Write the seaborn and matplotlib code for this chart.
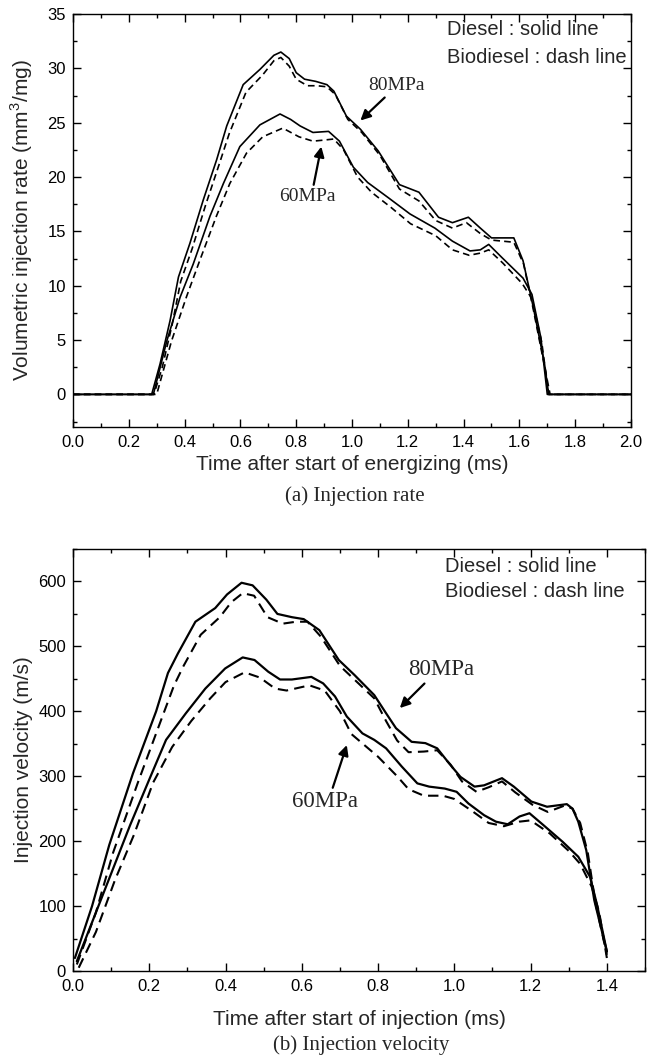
import numpy as np
import pandas as pd
import matplotlib
matplotlib.use("Agg")
import matplotlib.pyplot as plt
import seaborn as sns
from matplotlib.ticker import MultipleLocator, FormatStrFormatter

# ---------------- data: (a) injection rate ----------------
rate_80_diesel_t = [0.0, 0.282, 0.312, 0.348, 0.378, 0.419, 0.467, 0.515, 0.551, 0.61, 0.67, 0.72, 0.745, 0.775, 0.80, 0.83, 0.87, 0.91, 0.935, 0.98, 1.03, 1.094, 1.17, 1.24, 1.31, 1.36, 1.417, 1.46, 1.50, 1.58, 1.613, 1.65, 1.69, 1.705, 2.0]
rate_80_diesel = [0, 0, 2.8, 6.8, 10.8, 13.9, 17.9, 21.6, 24.7, 28.5, 29.9, 31.2, 31.5, 30.9, 29.6, 29.0, 28.8, 28.5, 27.9, 25.6, 24.4, 22.4, 19.3, 18.6, 16.3, 15.8, 16.3, 15.3, 14.4, 14.4, 12.3, 8.0, 2.8, 0, 0]

rate_80_bio_t = [0.0, 0.29, 0.32, 0.356, 0.386, 0.427, 0.475, 0.523, 0.56, 0.62, 0.68, 0.72, 0.745, 0.775, 0.80, 0.84, 0.875, 0.91, 0.94, 0.985, 1.035, 1.10, 1.17, 1.24, 1.30, 1.36, 1.41, 1.46, 1.50, 1.58, 1.615, 1.65, 1.69, 1.71, 2.0]
rate_80_bio = [0, 0, 2.5, 6.5, 10.4, 13.4, 17.4, 21.1, 24.0, 27.8, 29.4, 30.7, 31.0, 30.2, 29.0, 28.4, 28.4, 28.3, 27.6, 25.3, 24.1, 22.0, 18.9, 17.8, 16.0, 15.3, 15.8, 14.8, 14.2, 14.0, 12.0, 7.8, 2.6, 0, 0]

rate_60_diesel_t = [0.0, 0.288, 0.336, 0.384, 0.431, 0.491, 0.539, 0.598, 0.67, 0.742, 0.78, 0.814, 0.86, 0.916, 0.955, 1.005, 1.056, 1.13, 1.208, 1.297, 1.36, 1.423, 1.46, 1.49, 1.537, 1.613, 1.645, 1.677, 1.70, 2.0]
rate_60_diesel = [0, 0, 4.9, 8.95, 12.0, 16.4, 19.4, 22.8, 24.8, 25.8, 25.3, 24.7, 24.1, 24.2, 23.3, 20.9, 19.5, 18.1, 16.6, 15.3, 14.1, 13.2, 13.3, 13.8, 12.6, 10.7, 9.2, 5.2, 0, 0]

rate_60_bio_t = [0.0, 0.30, 0.353, 0.407, 0.454, 0.514, 0.562, 0.622, 0.68, 0.752, 0.81, 0.86, 0.90, 0.935, 0.97, 1.02, 1.07, 1.14, 1.21, 1.30, 1.36, 1.42, 1.46, 1.49, 1.54, 1.61, 1.645, 1.68, 1.705, 2.0]
rate_60_bio = [0, 0, 4.9, 9.0, 12.3, 16.4, 19.4, 22.2, 23.7, 24.5, 23.7, 23.3, 23.4, 23.5, 22.5, 20.0, 18.6, 17.2, 15.7, 14.6, 13.3, 12.8, 13.0, 13.3, 12.1, 10.2, 8.8, 4.8, 0, 0]

# ---------------- data: (b) injection velocity ----------------
vel_80_diesel_t = [0.005, 0.05, 0.095, 0.157, 0.218, 0.249, 0.275, 0.321, 0.373, 0.404, 0.442, 0.471, 0.507, 0.536, 0.574, 0.605, 0.646, 0.697, 0.738, 0.79, 0.821, 0.847, 0.888, 0.924, 0.955, 0.986, 1.016, 1.053, 1.078, 1.125, 1.156, 1.202, 1.243, 1.295, 1.31, 1.325, 1.346, 1.367, 1.40]
vel_80_diesel = [20, 100, 194, 304, 400, 459, 489, 538, 559, 580, 598, 594, 572, 550, 545, 542, 525, 479, 456, 425, 397, 374, 353, 351, 343, 320, 299, 284, 286, 297, 284, 261, 253, 257, 250, 230, 186, 109, 30]

vel_80_bio_t = [0.01, 0.06, 0.105, 0.17, 0.23, 0.265, 0.29, 0.335, 0.385, 0.415, 0.445, 0.475, 0.51, 0.55, 0.585, 0.615, 0.65, 0.70, 0.745, 0.79, 0.821, 0.85, 0.88, 0.92, 0.955, 0.99, 1.02, 1.058, 1.09, 1.125, 1.16, 1.205, 1.245, 1.29, 1.31, 1.33, 1.35, 1.37, 1.40]
vel_80_bio = [10, 90, 182, 290, 385, 440, 470, 518, 545, 568, 582, 578, 545, 535, 538, 538, 515, 470, 445, 420, 385, 355, 337, 338, 340, 318, 292, 276, 283, 292, 275, 256, 245, 255, 250, 228, 182, 105, 25]

vel_60_diesel_t = [0.01, 0.05, 0.10, 0.15, 0.20, 0.244, 0.296, 0.347, 0.399, 0.445, 0.476, 0.512, 0.543, 0.574, 0.625, 0.656, 0.687, 0.718, 0.759, 0.79, 0.821, 0.862, 0.903, 0.934, 0.975, 1.006, 1.037, 1.078, 1.109, 1.14, 1.171, 1.197, 1.233, 1.284, 1.325, 1.356, 1.375, 1.40]
vel_60_diesel = [15, 75, 150, 225, 295, 356, 397, 435, 466, 483, 479, 461, 449, 449, 453, 443, 423, 392, 366, 356, 343, 315, 289, 284, 281, 276, 258, 240, 230, 226, 238, 243, 225, 199, 176, 145, 100, 30]

vel_60_bio_t = [0.015, 0.06, 0.11, 0.16, 0.21, 0.26, 0.31, 0.36, 0.40, 0.45, 0.49, 0.53, 0.56, 0.62, 0.66, 0.70, 0.73, 0.77, 0.80, 0.85, 0.88, 0.92, 0.97, 1.00, 1.05, 1.09, 1.13, 1.17, 1.20, 1.25, 1.30, 1.33, 1.36, 1.38, 1.40]
vel_60_bio = [5, 60, 140, 210, 290, 345, 385, 420, 445, 460, 452, 435, 432, 440, 432, 400, 365, 345, 330, 300, 280, 270, 270, 265, 245, 228, 223, 230, 232, 212, 185, 165, 130, 90, 20]

# ---------------- style ----------------
sns.set_style("ticks")
plt.rcParams['font.family'] = ['Liberation Sans', 'DejaVu Sans']
plt.rcParams['mathtext.fontset'] = 'custom'
plt.rcParams['mathtext.rm'] = 'Liberation Sans'
SERIF = ['Liberation Serif', 'DejaVu Serif']

W, H = 655, 1064
fig = plt.figure(figsize=(W / 100, H / 100), dpi=100)
# axes boxes in pixels: left, top, right, bottom
ax1 = fig.add_axes([73 / W, 1 - 427 / H, (631 - 73) / W, (427 - 14) / H])
ax2 = fig.add_axes([73 / W, 1 - 971 / H, (645 - 73) / W, (971 - 549) / H])

def draw(ax, t, v, dashed, dash=(5, 3), lw=1.3):
    sns.lineplot(x=t, y=v, ax=ax, color='black', lw=lw, sort=False,
                 estimator=None, linestyle='--' if dashed else '-')
    if dashed:
        ax.lines[-1].set_dashes(dash)

draw(ax1, rate_80_diesel_t, rate_80_diesel, False, lw=1.2)
draw(ax1, rate_80_bio_t, rate_80_bio, True, dash=(4, 2.5), lw=1.2)
draw(ax1, rate_60_diesel_t, rate_60_diesel, False, lw=1.2)
draw(ax1, rate_60_bio_t, rate_60_bio, True, dash=(4, 2.5), lw=1.2)

draw(ax2, vel_80_diesel_t, vel_80_diesel, False, lw=1.6)
draw(ax2, vel_80_bio_t, vel_80_bio, True, dash=(5, 3), lw=1.5)
draw(ax2, vel_60_diesel_t, vel_60_diesel, False, lw=1.6)
draw(ax2, vel_60_bio_t, vel_60_bio, True, dash=(5, 3), lw=1.5)

for ax in (ax1, ax2):
    for s in ax.spines.values():
        s.set_visible(True)
        s.set_linewidth(1.0)
        s.set_color('black')
    ax.tick_params(which='both', direction='in', top=True, right=True,
                   colors='black', labelsize=12)
    ax.tick_params(which='major', length=6, width=1.0)
    ax.tick_params(which='minor', length=3, width=1.0)
    ax.tick_params(axis='x', which='both', pad=6)
    ax.tick_params(axis='y', which='both', pad=5)
    ax.set_facecolor('white')

ax1.set_xlim(0, 2.0)
ax1.set_ylim(-3, 35)
ax1.xaxis.set_major_locator(MultipleLocator(0.2))
ax1.xaxis.set_minor_locator(MultipleLocator(0.1))
ax1.yaxis.set_major_locator(MultipleLocator(5))
ax1.yaxis.set_minor_locator(MultipleLocator(2.5))
ax1.xaxis.set_major_formatter(FormatStrFormatter('%.1f'))
ax1.set_xlabel('Time after start of energizing (ms)', fontsize=15)
ax1.set_ylabel('Volumetric injection rate (mm$^3$/mg)', fontsize=15)
ax1.xaxis.set_label_coords(0.5, -0.068)
ax1.yaxis.set_label_coords(-0.068, 0.5)

ax2.set_xlim(0, 1.5)
ax2.set_ylim(0, 650)
ax2.xaxis.set_major_locator(MultipleLocator(0.2))
ax2.xaxis.set_minor_locator(MultipleLocator(0.1))
ax2.yaxis.set_major_locator(MultipleLocator(100))
ax2.yaxis.set_minor_locator(MultipleLocator(50))
ax2.xaxis.set_major_formatter(FormatStrFormatter('%.1f'))
ax2.set_xlabel('Time after start of injection (ms)', fontsize=15)
ax2.set_ylabel('Injection velocity (m/s)', fontsize=15)
ax2.xaxis.set_label_coords(0.5, -0.092)
ax2.yaxis.set_label_coords(-0.07, 0.5)

# legends as text
ax1.text(1.34, 33.6, 'Diesel : solid line', fontsize=14.5, va='center', ha='left')
ax1.text(1.34, 31.0, 'Biodiesel : dash line', fontsize=14.5, va='center', ha='left')
ax2.text(0.975, 623, 'Diesel : solid line', fontsize=14.5, va='center', ha='left')
ax2.text(0.975, 585, 'Biodiesel : dash line', fontsize=14.5, va='center', ha='left')

arrow = dict(arrowstyle='-|>', color='black', lw=1.6, mutation_scale=15, shrinkA=0, shrinkB=0)
ax1.annotate('80MPa', xy=(1.03, 25.2), xytext=(1.16, 28.4), fontsize=14, family=SERIF,
             ha='center', va='center', arrowprops=dict(arrow, relpos=(0.35, 0.0)))
ax1.annotate('60MPa', xy=(0.89, 22.8), xytext=(0.84, 18.2), fontsize=14, family=SERIF,
             ha='center', va='center', arrowprops=dict(arrow, relpos=(0.6, 1.0)))
ax2.annotate('80MPa', xy=(0.857, 405), xytext=(0.965, 464), fontsize=16.5, family=SERIF,
             ha='center', va='center', arrowprops=dict(arrow, relpos=(0.3, 0.0)))
ax2.annotate('60MPa', xy=(0.718, 348), xytext=(0.661, 261), fontsize=16.5, family=SERIF,
             ha='center', va='center', arrowprops=dict(arrow, relpos=(0.6, 1.0)))

fig.text(0.542, 1 - 496 / H, '(a) Injection rate', fontsize=15, family=SERIF,
         ha='center', va='center')
fig.text(0.551, 1 - 1045 / H, '(b) Injection velocity', fontsize=15, family=SERIF,
         ha='center', va='center')

fig.savefig('out.png', dpi=100, facecolor='white')
